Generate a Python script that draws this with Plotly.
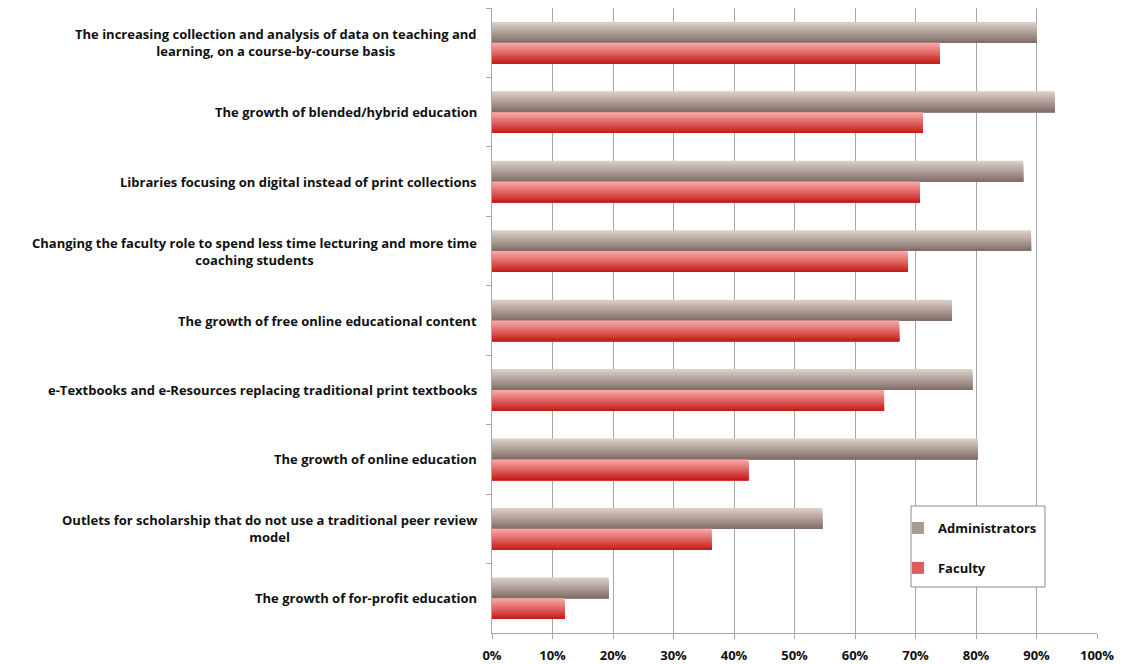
import plotly.graph_objects as go

categories = [
    "The increasing collection and analysis of data on teaching and<br>learning, on a course-by-course basis",
    "The growth of blended/hybrid education",
    "Libraries focusing on digital instead of print collections",
    "Changing the faculty role to spend less time lecturing and more time<br>coaching students",
    "The growth of free online educational content",
    "e-Textbooks and e-Resources replacing traditional print textbooks",
    "The growth of online education",
    "Outlets for scholarship that do not use a traditional peer review<br>model",
    "The growth of for-profit education",
]
administrators = [0.900, 0.930, 0.878, 0.891, 0.760, 0.794, 0.803, 0.546, 0.193]
faculty = [0.740, 0.712, 0.707, 0.687, 0.673, 0.648, 0.424, 0.363, 0.120]
x_ticks = [0, 0.1, 0.2, 0.3, 0.4, 0.5, 0.6, 0.7, 0.8, 0.9, 1.0]

FONT = "Open Sans"
TXT = "#111111"
GRID = "#a8a8a8"


def lerp_color(c1, c2, t):
    a = [int(c1[i:i + 2], 16) for i in (1, 3, 5)]
    b = [int(c2[i:i + 2], 16) for i in (1, 3, 5)]
    return "#" + "".join(f"{round(a[k] + (b[k] - a[k]) * t):02x}" for k in range(3))


series = [
    ("Administrators", administrators, "#dacec7", "#84706a", -0.30),
    ("Faculty", faculty, "#f8a8a5", "#c61f1e", 0.0),
]
thick = 0.30
n_slices = 14
step = thick / n_slices

fig = go.Figure()
for name, vals, c_top, c_bot, start in series:
    for i in range(n_slices):
        fig.add_trace(go.Bar(
            y=categories,
            x=vals,
            orientation="h",
            name=name,
            legendgroup=name,
            showlegend=(i == n_slices // 2),
            offset=start + i * step,
            width=thick - i * step,
            marker=dict(color=lerp_color(c_top, c_bot, i / (n_slices - 1)), line=dict(width=0)),
            hoverinfo="x+name",
        ))

annotations = []
for cat in categories:
    annotations.append(dict(
        x=0, xref="paper", y=cat, yref="y",
        xanchor="right", yanchor="middle", xshift=-13,
        text=cat, showarrow=False, align="center",
        font=dict(family=FONT, size=13, color=TXT, weight="bold"),
    ))

fig.update_layout(
    width=1118, height=656,
    margin=dict(l=484, r=29, t=0, b=31),
    paper_bgcolor="white", plot_bgcolor="white",
    barmode="overlay",
    showlegend=True,
    legend=dict(
        x=0.671, y=0.192, xanchor="left", yanchor="top",
        bgcolor="rgba(0,0,0,0)", borderwidth=0,
        font=dict(family=FONT, size=13, color=TXT, weight="bold"),
        traceorder="grouped", tracegroupgap=20, itemwidth=30,
    ),
    shapes=[dict(
        type="rect", xref="paper", yref="paper",
        x0=0.6926, x1=0.914, y0=0.0736, y1=0.2032,
        fillcolor="white", line=dict(color="#8c8c8c", width=1), layer="above",
    )],
    xaxis=dict(
        range=[0, 1.0], tickvals=x_ticks, tickformat=".0%",
        showgrid=True, gridcolor=GRID, gridwidth=1,
        showline=True, linecolor=GRID, linewidth=1,
        ticks="outside", ticklen=5, tickcolor=GRID, ticklabelstandoff=5,
        tickfont=dict(family=FONT, size=13, color=TXT, weight="bold"),
        zeroline=False, fixedrange=True,
    ),
    yaxis=dict(
        type="category", categoryorder="array", categoryarray=categories,
        range=[8.5, -0.5], showticklabels=False,
        ticks="outside", tickson="boundaries", ticklen=5, tickcolor=GRID,
        showline=True, linecolor=GRID, linewidth=1, showgrid=False,
        fixedrange=True,
    ),
    annotations=annotations,
)

fig.write_html("out.html")
